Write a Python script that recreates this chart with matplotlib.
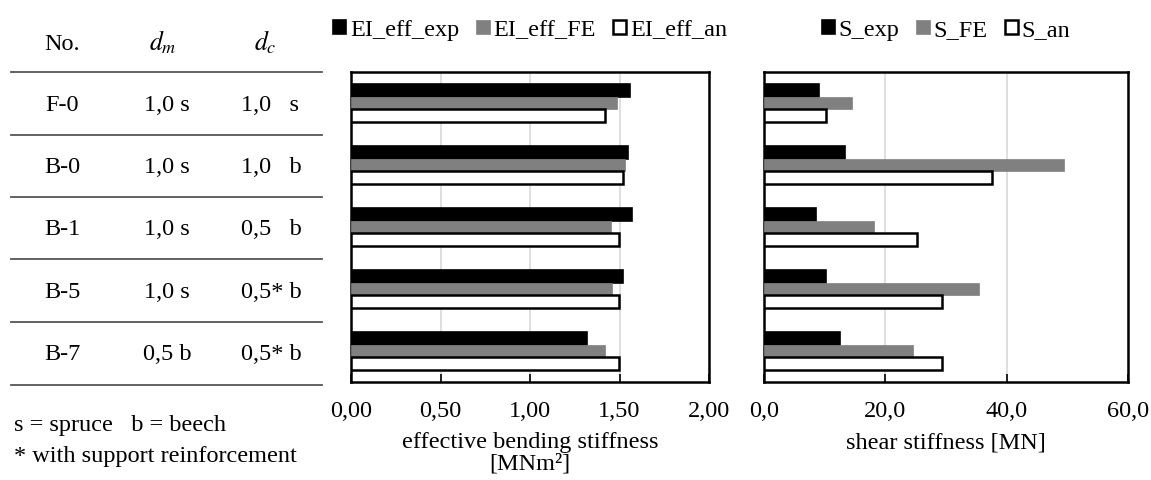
import matplotlib
matplotlib.use("Agg")
import matplotlib.pyplot as plt
import numpy as np
from matplotlib.lines import Line2D
from matplotlib.ticker import FuncFormatter

plt.rcParams['font.family'] = ['Liberation Serif', 'DejaVu Serif']
plt.rcParams['mathtext.fontset'] = 'stix'

# table data
specimens = ["F-0", "B-0", "B-1", "B-5", "B-7"]
d_m = ["1,0 s", "1,0 s", "1,0 s", "1,0 s", "0,5 b"]
d_c = ["1,0   s", "1,0   b", "0,5   b", "0,5* b", "0,5* b"]

# bending stiffness [MNm²]
ei_exp = [1.56, 1.545, 1.57, 1.52, 1.32]
ei_fe = [1.485, 1.53, 1.45, 1.46, 1.42]
ei_an = [1.42, 1.52, 1.495, 1.495, 1.495]

# shear stiffness [MN]
s_exp = [9.1, 13.4, 8.5, 10.3, 12.5]
s_fe = [14.5, 49.4, 18.2, 35.4, 24.5]
s_an = [10.2, 37.5, 25.2, 29.3, 29.3]

W, H = 1151, 480
fig = plt.figure(figsize=(W / 100, H / 100), dpi=100)
fs = 17.5

def fx(px):
    return px / W

def fy(py):
    return 1 - py / H

# ---- table on the left ----
for yl in [72, 135, 197, 259, 322, 385]:
    fig.add_artist(Line2D([fx(11), fx(322)], [fy(yl), fy(yl)], color='#555555', lw=1.3))
fig.text(fx(62), fy(50), "No.", ha='center', va='baseline', fontsize=fs)
fig.text(fx(163), fy(50), r"$d_m$", ha='center', va='baseline', fontsize=fs + 1)
fig.text(fx(265), fy(50), r"$d_c$", ha='center', va='baseline', fontsize=fs + 1)
row_y = [111, 173, 235, 298, 360]
for i in range(len(specimens)):
    fig.text(fx(62), fy(row_y[i]), specimens[i], ha='center', va='baseline', fontsize=fs)
    fig.text(fx(167), fy(row_y[i]), d_m[i], ha='center', va='baseline', fontsize=fs)
    fig.text(fx(241), fy(row_y[i]), d_c[i], ha='left', va='baseline', fontsize=fs)
fig.text(fx(14), fy(431), "s = spruce   b = beech", ha='left', va='baseline', fontsize=fs)
fig.text(fx(14), fy(462), "* with support reinforcement", ha='left', va='baseline', fontsize=fs)

# ---- bar charts ----
ax1 = fig.add_axes([fx(351), fy(382), fx(709 - 351), (382 - 72) / H])
ax2 = fig.add_axes([fx(764), fy(382), fx(1128 - 764), (382 - 72) / H])

y = np.arange(len(specimens))
bh = 0.2

def draw(ax, exp, fe, an, labels, xmax, step, fmt):
    ax.barh(y - bh, exp, height=bh, color='black', edgecolor='black', lw=1.2, label=labels[0], zorder=3)
    ax.barh(y, fe, height=bh, color='#808080', edgecolor='#808080', lw=0.5, label=labels[1], zorder=3)
    ax.barh(y + bh, an, height=bh, color='white', edgecolor='black', lw=1.8, label=labels[2], zorder=3)
    ax.set_xlim(0, xmax)
    ax.set_ylim(len(specimens) - 0.5, -0.5)
    ax.set_xticks(np.arange(0, xmax + step / 2, step))
    ax.xaxis.set_major_formatter(FuncFormatter(lambda v, p: fmt.format(v).replace('.', ',')))
    ax.set_yticks([])
    ax.grid(axis='x', color='#d9d9d9', lw=1.2, zorder=0)
    ax.tick_params(axis='x', direction='in', length=6, width=1.2, labelsize=fs, pad=14)
    for s in ax.spines.values():
        s.set_linewidth(1.8)
    ax.legend(loc='lower center', bbox_to_anchor=(0.5, 1.07), ncol=3, frameon=False,
              fontsize=fs, handlelength=0.55, handleheight=0.55, handletextpad=0.15,
              columnspacing=0.7, borderaxespad=0)

draw(ax1, ei_exp, ei_fe, ei_an, ["EI_eff_exp", "EI_eff_FE", "EI_eff_an"], 2.0, 0.5, "{:.2f}")
draw(ax2, s_exp, s_fe, s_an, ["S_exp", "S_FE", "S_an"], 60, 20, "{:.1f}")

ax1.set_xlabel("effective bending stiffness\n[MNm²]", fontsize=fs, labelpad=7, linespacing=1.05)
ax2.set_xlabel("shear stiffness [MN]", fontsize=fs, labelpad=7)

fig.savefig("out.png", dpi=100)
